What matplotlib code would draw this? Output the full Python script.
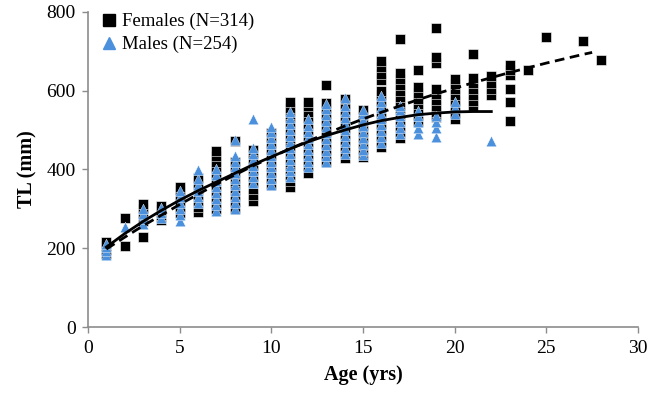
import matplotlib
matplotlib.use('Agg')
import matplotlib.pyplot as plt
from matplotlib.lines import Line2D

plt.rcParams['font.family'] = ['Liberation Serif', 'DejaVu Serif']

# TL (mm), grouped by age (yrs)
females_tl = {
    1: [185, 195, 205, 215],
    2: [205, 278],
    3: [228, 270, 285, 300, 312],
    4: [272, 285, 298, 308],
    5: [290, 305, 320, 335, 348, 355],
    6: [292, 305, 320, 335, 350, 365, 378],
    7: [300, 315, 330, 345, 360, 375, 390, 405, 420, 435, 448],
    8: [300, 318, 335, 352, 370, 388, 405, 420, 473],
    9: [320, 335, 350, 365, 380, 395, 410, 425, 440, 450],
    10: [360, 375, 390, 405, 420, 435, 450, 465, 480, 492],
    11: [355, 370, 385, 400, 420, 440, 460, 480, 500, 520, 540, 555, 570],
    12: [392, 410, 425, 440, 455, 470, 485, 500, 515, 530, 545, 560, 572],
    13: [420, 435, 450, 465, 480, 495, 510, 525, 540, 555, 568, 615],
    14: [430, 445, 460, 475, 490, 505, 520, 535, 550, 565, 580],
    15: [432, 447, 462, 477, 492, 507, 522, 537, 552],
    16: [456, 470, 485, 500, 515, 530, 545, 560, 575, 590, 600, 628, 642, 660, 676],
    17: [480, 495, 510, 525, 540, 555, 570, 585, 600, 615, 630, 645, 732],
    18: [520, 535, 550, 565, 580, 595, 610, 653],
    19: [532, 547, 562, 577, 592, 605, 670, 685, 760],
    20: [528, 543, 558, 573, 588, 603, 618, 630],
    21: [560, 575, 590, 605, 620, 632, 693],
    22: [590, 605, 620, 637],
    23: [524, 570, 605, 640, 652, 664],
    24: [653],
    25: [737],
    27: [727],
    28: [679],
}

males_tl = {
    1: [182, 192, 202, 212],
    2: [253],
    3: [262, 275, 288, 300],
    4: [278, 290, 302],
    5: [268, 285, 300, 315, 330, 345],
    6: [315, 330, 345, 360, 375, 398],
    7: [295, 310, 325, 340, 355, 370, 385, 400],
    8: [300, 315, 330, 345, 360, 375, 390, 405, 420, 435, 476],
    9: [365, 380, 395, 410, 425, 440, 455, 528],
    10: [360, 375, 390, 405, 420, 435, 450, 465, 480, 495, 508],
    11: [380, 395, 410, 425, 440, 455, 470, 485, 500, 515, 530, 545],
    12: [405, 420, 435, 450, 465, 480, 495, 510, 529],
    13: [418, 433, 448, 463, 478, 493, 508, 523, 538, 553, 567],
    14: [440, 455, 470, 485, 500, 515, 530, 545, 560, 582],
    15: [436, 450, 465, 480, 495, 510, 525, 540, 552],
    16: [468, 482, 497, 512, 527, 542, 557, 572, 587],
    17: [490, 505, 520, 535, 550, 562],
    18: [490, 505, 520, 535, 548],
    19: [482, 505, 520, 535],
    20: [540, 555, 572],
    22: [473],
}

# fitted growth curves
female_fit_age = [1, 2, 3, 4, 5, 6, 7, 8, 9, 10, 11, 12, 13, 14, 15, 16, 17, 18,
                  19, 20, 21, 22, 23, 24, 25, 26, 27, 27.5]
female_fit_tl = [198, 228, 257, 284, 311, 337, 362, 386, 409, 431, 452, 472, 491,
                 510, 528, 545, 561, 577, 592, 606, 620, 633, 646, 658, 670, 681,
                 692, 697]
male_fit_age = [1, 2, 3, 4, 5, 6, 7, 8, 9, 10, 11, 12, 13, 14, 15, 16, 17, 18,
                19, 20, 21, 22]
male_fit_tl = [203, 237, 268, 296, 322, 346, 368, 390, 412, 432, 452, 470, 486,
               500, 513, 524, 532, 539, 543, 546, 547, 547]

BLUE = '#4a90dc'
GRAY = '#8c8c8c'


def flatten(groups):
    xs, ys = [], []
    for age, vals in groups.items():
        xs += [age] * len(vals)
        ys += vals
    return xs, ys


fig = plt.figure(figsize=(6.49, 3.95), dpi=100)
ax = fig.add_axes([0.1356, 0.172, 0.8474, 0.798])

fx, fy = flatten(females_tl)
mx, my = flatten(males_tl)
ax.scatter(fx, fy, marker='s', s=60, c='black', edgecolors='white',
           linewidths=0.4, zorder=2)
ax.scatter(mx, my, marker='^', s=58, c=BLUE, edgecolors='white',
           linewidths=0.3, zorder=3)
ax.plot(female_fit_age, female_fit_tl, color='black', lw=2.0,
        dashes=(3.5, 2.0), zorder=4)
ax.plot(male_fit_age, male_fit_tl, color='black', lw=2.0, zorder=4)

ax.set_xlim(0, 30)
ax.set_ylim(0, 800)
ax.set_xticks(range(0, 31, 5))
ax.set_yticks(range(0, 801, 200))
for side in ('top', 'right'):
    ax.spines[side].set_visible(False)
for side in ('left', 'bottom'):
    ax.spines[side].set_color(GRAY)
    ax.spines[side].set_linewidth(1.2)
ax.tick_params(direction='out', length=4, width=1.0, color=GRAY,
               labelsize=14, pad=5)

ax.set_xlabel('Age (yrs)', fontsize=14.5, fontweight='bold', labelpad=6)
ax.set_ylabel('TL (mm)', fontsize=14.5, fontweight='bold', labelpad=6)

handles = [
    Line2D([], [], marker='s', ls='none', color='black', markersize=8),
    Line2D([], [], marker='^', ls='none', color=BLUE, markersize=8),
]
ax.legend(handles, ['Females (N=314)', 'Males (N=254)'], loc='upper left',
          bbox_to_anchor=(0.01, 1.02), frameon=False, fontsize=13.5,
          handlelength=0.8, handletextpad=0.3, labelspacing=0.3,
          borderaxespad=0)

fig.savefig('out.png', dpi=100)
